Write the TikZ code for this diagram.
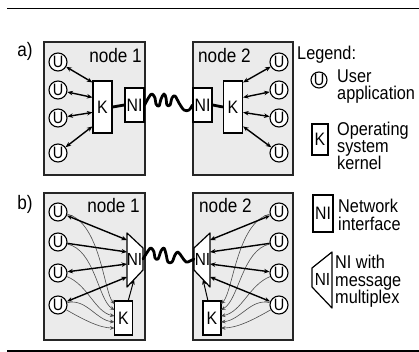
\documentclass[tikz,border=0pt]{standalone}
\usepackage{fontspec}
\setmainfont{Liberation Sans}[FakeStretch=0.88]
\usetikzlibrary{arrows.meta,calc}

\tikzset{
  nodebox/.style={rectangle, draw=black!85, line width=1.4pt, fill=black!8, inner sep=0pt},
  ucirc/.style={circle, draw, line width=1.1pt, fill=white, inner sep=0pt,
    minimum size=18pt, font=\fontsize{16.5}{16.5}\selectfont},
  kbox/.style={rectangle, draw, line width=1.2pt, fill=white, inner sep=0pt,
    font=\fontsize{18}{18}\selectfont},
  trap/.style={draw, line width=1.2pt, fill=white, line join=round},
  lbl/.style={font=\fontsize{18.5}{18}\selectfont, inner sep=0pt},
  namelbl/.style={font=\fontsize{19.5}{19}\selectfont, inner sep=0pt},
  nitext/.style={font=\fontsize{17.5}{17.5}\selectfont, inner sep=0pt},
  biarrow/.style={line width=1.4pt,
    {Stealth[length=5.5pt,width=4.5pt]}-{Stealth[length=5.5pt,width=4.5pt]}},
  toarrow/.style={line width=1.4pt, -{Stealth[length=5.5pt,width=4.5pt]}},
  kni/.style={line width=1pt, -{Stealth[length=5pt,width=4pt]}},
  bar/.style={line width=2.8pt},
  squig/.style={line width=2.8pt, line cap=round, line join=round},
  thinarrow/.style={line width=0.6pt, black!70, -{Stealth[length=4.5pt,width=3.8pt]}},
}

\begin{document}
\begin{tikzpicture}[x=1pt,y=-1pt]
\useasboundingbox (0,0) rectangle (419,352);

% page rules
\draw[line width=1.5pt] (7,8.5) -- (419,8.5);
\draw[line width=2pt] (7,350.5) -- (419,350.5);

% ---------------- a) ----------------
\node[namelbl] (alab) at (25,51) {a)};
\node[nodebox, minimum width=101pt, minimum height=133pt] (a1box) at (94.5,108.5) {};
\node[nodebox, minimum width=100pt, minimum height=133pt] (a2box) at (243,108.5) {};
\node[namelbl, anchor=base east] (a1name) at (142,63) {node 1};
\node[namelbl, anchor=base west] (a2name) at (198,63) {node 2};

% node 1
\node[kbox, minimum width=19pt, minimum height=52pt] (a1k) at (102.5,107) {K};
\node[kbox, minimum width=19pt, minimum height=34pt] (a1ni) at (134.5,105) {NI};
\foreach \i/\y in {1/62,2/90,3/118,4/153}
  \node[ucirc] (a1u\i) at (58,\y) {U};
\foreach \i/\d in {1/2,2/17,3/32,4/46}
  \coordinate (a1kp\i) at ($(a1k.north west)+(0,\d)$);
\foreach \i in {1,...,4}
  \draw[biarrow] (a1u\i) -- (a1kp\i);
\draw[bar] (a1k.east) -- (a1ni.west);

% node 2
\node[kbox, minimum width=19pt, minimum height=52pt] (a2k) at (233,107) {K};
\node[kbox, minimum width=19pt, minimum height=34pt] (a2ni) at (202.5,105) {NI};
\foreach \i/\y in {1/62,2/90,3/118,4/153}
  \node[ucirc] (a2u\i) at (279,\y) {U};
\foreach \i/\d in {1/2,2/17,3/32,4/46}
  \coordinate (a2kp\i) at ($(a2k.north east)+(0,\d)$);
\foreach \i in {1,...,4}
  \draw[biarrow] (a2u\i) -- (a2kp\i);
\draw[bar] (a2ni.east) -- (a2k.west);

% link between the two network interfaces
\draw[squig] plot[smooth, tension=0.6] coordinates {
  (a1ni.east) (149,97) (152,94) (155,98) (156,104) (159,106) (161,99) (164,94)
  (166,98) (167,105) (170,105) (172,98) (175,96) (179,103) (184,110) (189,110) (a2ni.west)};

% ---------------- b) ----------------
\node[namelbl] (blab) at (25,204) {b)};
\node[nodebox, minimum width=101pt, minimum height=147pt] (b1box) at (94.5,266.5) {};
\node[nodebox, minimum width=100pt, minimum height=147pt] (b2box) at (243,266.5) {};
\node[namelbl, anchor=base east] (b1name) at (140,212) {node 1};
\node[namelbl, anchor=base west] (b2name) at (199,212) {node 2};

% node 1: multiplexing network interface
\draw[trap] (127,233) -- (143,248) -- (143,270) -- (127,287) -- cycle;
\node[nitext] (b1ni) at (134.5,259) {NI};
\node[kbox, minimum width=18pt, minimum height=34pt] (b1k) at (123.5,318) {K};
\foreach \i/\y in {1/212,2/242,3/273,4/305}
  \node[ucirc] (b1u\i) at (58,\y) {U};
\foreach \i/\y in {1/240,2/252,3/264,4/277}
  \coordinate (b1n\i) at (127,\y);
\coordinate (b1nk) at (134,279.6);
\foreach \i/\y in {1/304,2/310,3/316,4/322,5/328}
  \coordinate (b1kp\i) at (114.5,\y);

\draw[thinarrow] (b1u1) .. controls (100,222) and (104,292) .. (b1kp1);
\draw[thinarrow] (b1u2) .. controls (95,250) and (98,300) .. (b1kp2);
\draw[thinarrow] (b1u3) .. controls (88,285) and (95,312) .. (b1kp3);
\draw[thinarrow] (b1u4) .. controls (86,298) and (96,320) .. (b1kp4);
\draw[thinarrow] (b1u4) .. controls (84,320) and (100,328) .. (b1kp5);

\draw[biarrow] (b1u1) -- (b1n1);
\draw[toarrow] (b1u2) -- (b1n2);
\draw[biarrow] (b1u3) -- (b1n3);
\draw[biarrow] (b1u4) -- (b1n4);
\draw[kni] (b1k) -- (b1nk);

% node 2: multiplexing network interface
\draw[trap] (210,233) -- (194,248) -- (194,270) -- (210,287) -- cycle;
\node[nitext] (b2ni) at (202.5,259) {NI};
\node[kbox, minimum width=18pt, minimum height=34pt] (b2k) at (212,318) {K};
\foreach \i/\y in {1/212,2/242,3/273,4/305}
  \node[ucirc] (b2u\i) at (279,\y) {U};
\foreach \i/\y in {1/240,2/252,3/264,4/277}
  \coordinate (b2n\i) at (210,\y);
\coordinate (b2nk) at (203,279.6);
\foreach \i/\y in {1/304,2/310,3/316,4/322,5/328}
  \coordinate (b2kp\i) at (221,\y);

\draw[thinarrow] (b2u1) .. controls (237,222) and (233,292) .. (b2kp1);
\draw[thinarrow] (b2u2) .. controls (242,250) and (239,300) .. (b2kp2);
\draw[thinarrow] (b2u3) .. controls (249,285) and (242,312) .. (b2kp3);
\draw[thinarrow] (b2u4) .. controls (251,298) and (241,320) .. (b2kp4);
\draw[thinarrow] (b2u4) .. controls (253,320) and (237,328) .. (b2kp5);

\draw[biarrow] (b2u1) -- (b2n1);
\draw[toarrow] (b2u2) -- (b2n2);
\draw[biarrow] (b2u3) -- (b2n3);
\draw[biarrow] (b2u4) -- (b2n4);
\draw[kni] (b2k) -- (b2nk);

% link between the two multiplexing interfaces
\draw[squig] plot[smooth, tension=0.6] coordinates {
  (143,259) (148,251) (151,248) (154,252) (155,258) (158,259) (161,251) (164,248)
  (166,254) (168,262) (172,262) (175,255) (178,252) (182,257) (186,262) (190,261) (194,259)};

% ---------------- legend ----------------
\node[lbl, anchor=base west] (leg) at (297,60) {Legend:};

\node[ucirc, minimum size=16pt] (lgu) at (319,80) {U};
\node[lbl, anchor=base west] (lgu1) at (337,83) {User};
\node[lbl, anchor=base west] (lgu2) at (337,100) {application};

\node[kbox, minimum width=16pt, minimum height=31pt] (lgk) at (320,139.5) {K};
\node[lbl, anchor=base west] (lgk1) at (337,136) {Operating};
\node[lbl, anchor=base west] (lgk2) at (337,153) {system};
\node[lbl, anchor=base west] (lgk3) at (337,170) {kernel};

\node[kbox, minimum width=20pt, minimum height=37pt] (lgni) at (323,213.5) {NI};
\node[lbl, anchor=base west] (lgni1) at (338,212) {Network};
\node[lbl, anchor=base west] (lgni2) at (338,230) {interface};

\draw[trap] (332,252) -- (312,268) -- (312,287) -- (332,308) -- cycle;
\node[nitext] (lgmx) at (322.5,279) {NI};
\node[lbl, anchor=base west] (lgmx1) at (335,268) {NI with};
\node[lbl, anchor=base west] (lgmx2) at (335,286) {message};
\node[lbl, anchor=base west] (lgmx3) at (335,303) {multiplex};
\end{tikzpicture}
\end{document}
